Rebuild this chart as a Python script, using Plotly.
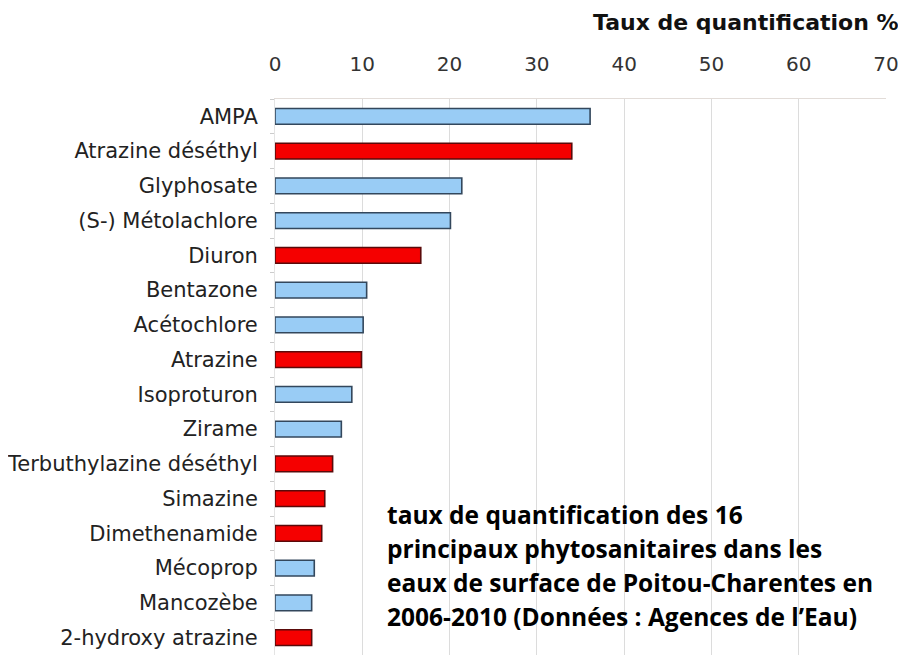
import plotly.graph_objects as go

substances = ["AMPA", "Atrazine déséthyl", "Glyphosate", "(S-) Métolachlore", "Diuron",
              "Bentazone", "Acétochlore", "Atrazine", "Isoproturon", "Zirame",
              "Terbuthylazine déséthyl", "Simazine", "Dimethenamide", "Mécoprop",
              "Mancozèbe", "2-hydroxy atrazine"]
taux = [36.1, 34.0, 21.4, 20.1, 16.7, 10.5, 10.1, 9.9, 8.8, 7.6, 6.6, 5.7, 5.35, 4.5, 4.2, 4.2]
groupe = ["b", "r", "b", "b", "r", "b", "b", "r", "b", "b", "r", "r", "r", "b", "b", "r"]
x_ticks = [0, 10, 20, 30, 40, 50, 60, 70]
legende = ["taux de quantification des 16",
           "principaux phytosanitaires dans les",
           "eaux de surface de Poitou-Charentes en",
           "2006-2010 (Données : Agences de l’Eau)"]

fill = {"b": "#99ccf5", "r": "#f50000"}
edge = {"b": "#33475c", "r": "#5a0a0a"}

# page has an 8px body margin: figure origin at (8, 8)
W, H = 898, 647
L, T, R = 267, 91, 20
plot_w = W - L - R
plot_h = H - T
plot_bottom_px = 8 + H

fig = go.Figure(go.Bar(
    x=taux, y=substances, orientation="h",
    marker=dict(color=[fill[g] for g in groupe],
                line=dict(color=[edge[g] for g in groupe], width=1.6)),
    width=0.45,
))

annotations = [
    dict(text="<b>Taux de quantification %</b>", xref="paper", yref="paper",
         x=(901 - 8 - L) / plot_w, y=1 + (99 - 23) / plot_h, xanchor="right", yanchor="middle",
         showarrow=False, font=dict(size=22, color="#111", family="DejaVu Sans, Arial, sans-serif")),
]
line_centers_px = [514, 548, 582, 616]
for txt, yc in zip(legende, line_centers_px):
    annotations.append(dict(
        text="<b>" + txt + "</b>", xref="paper", yref="paper",
        x=(385 - 8 - L) / plot_w, y=(plot_bottom_px - yc) / plot_h,
        xanchor="left", yanchor="middle", align="left", showarrow=False,
        font=dict(size=24.5, color="#000", family="Open Sans, sans-serif")))

fig.update_layout(
    width=W, height=H,
    margin=dict(l=L, r=R, t=T, b=0, pad=0),
    plot_bgcolor="white", paper_bgcolor="white",
    showlegend=False,
    font=dict(family="DejaVu Sans, Arial, sans-serif", color="#222"),
    xaxis=dict(side="top", range=[0, 70], tickvals=x_ticks,
               showgrid=True, gridcolor="#dcdcdc", gridwidth=1,
               zeroline=False, showline=True, linecolor="#e2dcd8", mirror=False,
               tickfont=dict(size=20, color="#333"), ticks="", ticklabelstandoff=19,
               fixedrange=True),
    yaxis=dict(autorange="reversed", type="category",
               tickfont=dict(size=21, color="#222"),
               ticks="outside", ticklen=4, tickcolor="#cccccc", tickson="boundaries",
               showline=True, linecolor="#e4e4e4", showgrid=False,
               ticklabelstandoff=12),
    annotations=annotations,
)

fig.write_html("out.html")
